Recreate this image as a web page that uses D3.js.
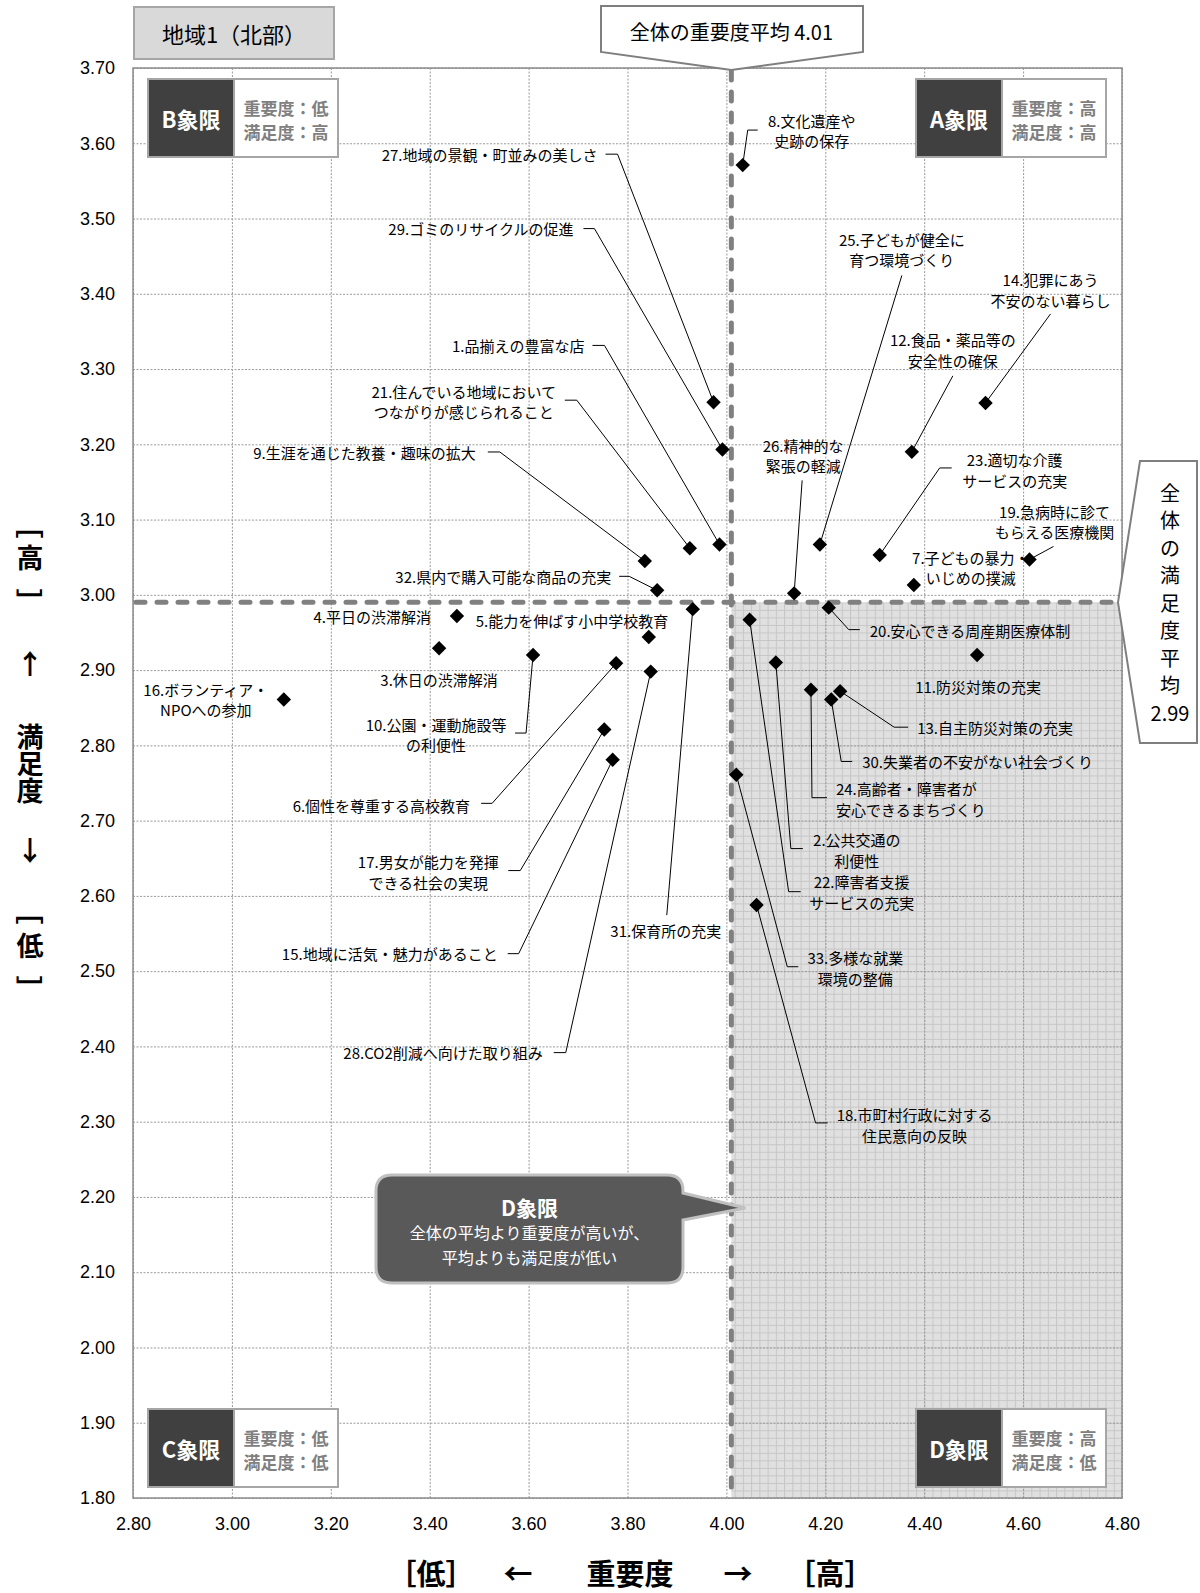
<!DOCTYPE html>
<html>
<head>
<meta charset="utf-8">
<script src="https://cdn.jsdelivr.net/npm/d3@7"></script>
<style>
    body { margin: 0; background: #fff; }
    svg text { font-family: "Noto Sans CJK JP", "Noto Sans", sans-serif; }
    .tick text { font-family: "Liberation Sans", Arial, sans-serif; font-size: 18px; fill: #000; }
</style>
</head>
<body>
<svg id="chart" width="1200" height="1593"></svg>
<script>
"use strict"

// survey items (番号 = index + 1)
const itemNames = [
    "品揃えの豊富な店", "公共交通の利便性", "休日の渋滞解消", "平日の渋滞解消",
    "能力を伸ばす小中学校教育", "個性を尊重する高校教育", "子どもの暴力・いじめの撲滅",
    "文化遺産や史跡の保存", "生涯を通じた教養・趣味の拡大", "公園・運動施設等の利便性",
    "防災対策の充実", "食品・薬品等の安全性の確保", "自主防災対策の充実",
    "犯罪にあう不安のない暮らし", "地域に活気・魅力があること", "ボランティア・NPOへの参加",
    "男女が能力を発揮できる社会の実現", "市町村行政に対する住民意向の反映",
    "急病時に診てもらえる医療機関", "安心できる周産期医療体制",
    "住んでいる地域においてつながりが感じられること", "障害者支援サービスの充実",
    "適切な介護サービスの充実", "高齢者・障害者が安心できるまちづくり",
    "子どもが健全に育つ環境づくり", "精神的な緊張の軽減", "地域の景観・町並みの美しさ",
    "CO2削減へ向けた取り組み", "ゴミのリサイクルの促進", "失業者の不安がない社会づくり",
    "保育所の充実", "県内で購入可能な商品の充実", "多様な就業環境の整備"
];

// 重要度 (x)
const importance = [
    3.986, 4.100, 3.419, 3.455, 3.843, 3.777, 4.379, 4.033, 3.835, 3.609,
    4.507, 4.375, 4.230, 4.524, 3.770, 3.105, 3.753, 4.061, 4.613, 4.207,
    3.926, 4.047, 4.310, 4.171, 4.189, 4.137, 3.974, 3.847, 3.992, 4.212,
    3.932, 3.860, 4.020
];

// 満足度 (y)
const satisfaction = [
    3.067, 2.910, 2.929, 2.972, 2.944, 2.909, 3.013, 3.571, 3.045, 2.920,
    2.920, 3.190, 2.872, 3.255, 2.781, 2.861, 2.821, 2.588, 3.047, 2.983,
    3.062, 2.967, 3.053, 2.874, 3.067, 3.002, 3.256, 2.898, 3.193, 2.861,
    2.981, 3.006, 2.761
];

const avgImportance = 4.01;
const avgSatisfaction = 2.99;

const xTicks = [2.8, 3.0, 3.2, 3.4, 3.6, 3.8, 4.0, 4.2, 4.4, 4.6, 4.8];
const yTicks = [1.8, 1.9, 2.0, 2.1, 2.2, 2.3, 2.4, 2.5, 2.6, 2.7, 2.8, 2.9, 3.0, 3.1, 3.2, 3.3, 3.4, 3.5, 3.6, 3.7];

const regionTitle = "地域1（北部）";

// label layout: [番号, anchor, dx, dy (first line, from point), chars on line 1, leader offsets]
const labelLayout = [
    [8, "middle", 69, -45, 5, [[5, -35], [15, -35]]],
    [27, "end", -116, -248, 0, [[-96, -248], [-108, -248]]],
    [29, "end", -149, -221, 0, [[-128, -221], [-139, -221]]],
    [1, "end", -135, -199, 0, [[-115, -199], [-127, -199]]],
    [21, "middle", -226, -157, 11, [[-113, -148], [-125, -148]]],
    [9, "end", -169, -108, 0, [[-145, -109], [-157, -109]]],
    [32, "end", -46, -14, 0, [[-28, -14], [-38, -14]]],
    [26, "middle", 9, -148, 4, [[8, -113]]],
    [25, "middle", 82, -305, 7, [[82, -269]]],
    [14, "middle", 65, -123, 5, [[65, -89]]],
    [12, "middle", 41, -112, 7, [[41, -76]]],
    [23, "middle", 135, -95, 5, [[60, -87], [72, -87]]],
    [19, "middle", 25, -48, 6, [[24, -13]]],
    [7, "middle", 57, -28, 7, []],
    [20, "start", 41, 23, 0, [[20, 22], [31, 22]]],
    [11, "middle", 1, 31, 0, []],
    [13, "start", 77, 36, 0, [[54, 36], [68, 36]]],
    [30, "start", 31, 62, 0, [[10, 62], [21, 62]]],
    [24, "start", 25, 99, 8, [[1, 108], [16, 108]]],
    [2, "middle", 81, 177, 5, [[15, 186], [27, 186]]],
    [22, "middle", 112, 262, 5, [[39, 272], [51, 272]]],
    [33, "middle", 119, 183, 5, [[51, 192], [62, 192]]],
    [18, "middle", 158, 210, 9, [[59, 218], [71, 218]]],
    [31, "middle", -27, 321, 0, [[-26, 306]]],
    [28, "end", -108, 381, 0, [[-85, 381], [-97, 381]]],
    [15, "end", -115, 194, 0, [[-94, 194], [-105, 194]]],
    [17, "middle", -176, 132, 8, [[-84, 141], [-96, 141]]],
    [6, "end", -146, 142, 0, [[-124, 140], [-135, 140]]],
    [10, "middle", -97, 69, 8, [[-7, 78], [-18, 78]]],
    [3, "middle", 0, 31, 0, []],
    [4, "end", -26, 1, 0, []],
    [5, "start", -173, -16, 0, []],
    [16, "middle", -78, -10, 7, []]
];

const svg = d3.select("#chart");
const plot = { left: 133, right: 1122, top: 68, bottom: 1498 };
const plotW = plot.right - plot.left;
const plotH = plot.bottom - plot.top;

const x = d3.scaleLinear().domain([2.8, 4.8]).range([plot.left, plot.right]);
const y = d3.scaleLinear().domain([1.8, 3.7]).range([plot.bottom, plot.top]);

const points = itemNames.map((name, i) => ({
    no: i + 1,
    name: name,
    imp: importance[i],
    sat: satisfaction[i]
}));

/* fine grid pattern of the D quadrant */
const defs = svg.append("defs");
const pw = (x(3.0) - x(2.8)) / 12;
const ph = (y(1.8) - y(1.9)) / 10;
const pat = defs.append("pattern")
    .attr("id", "dgrid")
    .attr("patternUnits", "userSpaceOnUse")
    .attr("x", plot.left).attr("y", plot.top)
    .attr("width", pw).attr("height", ph);
pat.append("rect").attr("width", pw).attr("height", ph).attr("fill", "#e0e0e0");
pat.append("path")
    .attr("d", `M0,0.5H${pw}M0.5,0V${ph}`)
    .attr("stroke", "#c6c6c6")
    .attr("stroke-width", 1);

svg.append("rect")
    .attr("x", plot.left).attr("y", plot.top)
    .attr("width", plotW).attr("height", plotH)
    .attr("fill", "#fff");

svg.append("rect")
    .attr("x", x(avgImportance)).attr("y", y(avgSatisfaction))
    .attr("width", plot.right - x(avgImportance))
    .attr("height", plot.bottom - y(avgSatisfaction))
    .attr("fill", "url(#dgrid)");

/* axes + grid */
const yAxis = svg.append("g")
    .attr("transform", `translate(${plot.left},0)`)
    .call(d3.axisLeft(y).tickValues(yTicks).tickSize(-plotW).tickPadding(18).tickFormat(d3.format(".2f")));
const xAxis = svg.append("g")
    .attr("transform", `translate(0,${plot.bottom})`)
    .call(d3.axisBottom(x).tickValues(xTicks).tickSize(-plotH).tickPadding(19).tickFormat(d3.format(".2f")));

[xAxis, yAxis].forEach(ax => {
    ax.select(".domain").remove();
    ax.selectAll(".tick line")
        .attr("stroke", "#9a9a9a")
        .attr("stroke-dasharray", "2,1.5");
});

svg.append("rect")
    .attr("x", plot.left).attr("y", plot.top)
    .attr("width", plotW).attr("height", plotH)
    .attr("fill", "none")
    .attr("stroke", "#8c8c8c")
    .attr("stroke-width", 1.5);

/* average lines */
svg.append("line")
    .attr("x1", x(avgImportance)).attr("x2", x(avgImportance))
    .attr("y1", plot.top + 3).attr("y2", plot.bottom)
    .attr("stroke", "#808080").attr("stroke-width", 5)
    .attr("stroke-dasharray", "9,12").attr("stroke-linecap", "round");
svg.append("line")
    .attr("x1", plot.left + 3).attr("x2", plot.right)
    .attr("y1", y(avgSatisfaction)).attr("y2", y(avgSatisfaction))
    .attr("stroke", "#808080").attr("stroke-width", 5)
    .attr("stroke-dasharray", "9,12").attr("stroke-linecap", "round");

/* leader lines and labels */
const byNo = {};
points.forEach(p => { byNo[p.no] = p; });

const labelG = svg.append("g");
labelLayout.forEach(([no, anchor, dx, dy, br, leader]) => {
    const p = byNo[no];
    const px = x(p.imp), py = y(p.sat);
    if (leader.length > 0) {
        const path = d3.path();
        path.moveTo(px, py);
        leader.forEach(([lx, ly]) => path.lineTo(px + lx, py + ly));
        labelG.append("path")
            .attr("d", path.toString())
            .attr("fill", "none")
            .attr("stroke", "#000")
            .attr("stroke-width", 1);
    }
    const full = p.no + "." + p.name;
    const lines = br > 0 ? [p.no + "." + p.name.slice(0, br), p.name.slice(br)] : [full];
    const t = labelG.append("text")
        .attr("text-anchor", anchor)
        .style("font-size", "15px")
        .attr("fill", "#000");
    lines.forEach((ln, i) => {
        t.append("tspan")
            .attr("x", px + dx)
            .attr("y", py + dy + i * 20.5)
            .attr("dominant-baseline", "central")
            .text(ln);
    });
});

/* diamonds */
svg.append("g").selectAll("path")
    .data(points)
    .enter().append("path")
    .attr("d", d3.symbol(d3.symbolSquare, 104))
    .attr("transform", d => `translate(${x(d.imp)},${y(d.sat)}) rotate(45)`)
    .attr("fill", "#000");

/* quadrant boxes */
function quadrantBox(x0, y0, letter, imp, sat) {
    let g = svg.append("g");
    g.append("rect")
        .attr("x", x0).attr("y", y0).attr("width", 190).attr("height", 78)
        .attr("fill", "#fff").attr("stroke", "#a6a6a6").attr("stroke-width", 2);
    g.append("rect")
        .attr("x", x0 + 1).attr("y", y0 + 1).attr("width", 85).attr("height", 76)
        .attr("fill", "#404040");
    g.append("line")
        .attr("x1", x0 + 86).attr("x2", x0 + 86).attr("y1", y0).attr("y2", y0 + 78)
        .attr("stroke", "#a6a6a6").attr("stroke-width", 2);
    g.append("text")
        .attr("x", x0 + 43).attr("y", y0 + 39)
        .attr("text-anchor", "middle").attr("dominant-baseline", "central")
        .style("font-size", "22px").style("font-weight", "bold")
        .attr("fill", "#fff")
        .text(letter + "象限");
    g.append("text")
        .attr("x", x0 + 138).attr("y", y0 + 28)
        .attr("text-anchor", "middle").attr("dominant-baseline", "central")
        .style("font-size", "17px").style("font-weight", "bold")
        .attr("fill", "#808080")
        .text("重要度：" + imp);
    g.append("text")
        .attr("x", x0 + 138).attr("y", y0 + 52)
        .attr("text-anchor", "middle").attr("dominant-baseline", "central")
        .style("font-size", "17px").style("font-weight", "bold")
        .attr("fill", "#808080")
        .text("満足度：" + sat);
}
quadrantBox(plot.left + 15, plot.top + 11, "B", "低", "高");
quadrantBox(plot.right - 206, plot.top + 11, "A", "高", "高");
quadrantBox(plot.left + 15, plot.bottom - 89, "C", "低", "低");
quadrantBox(plot.right - 206, plot.bottom - 89, "D", "高", "低");

/* region title */
svg.append("rect")
    .attr("x", 134).attr("y", 7).attr("width", 200).attr("height", 52)
    .attr("fill", "#d9d9d9").attr("stroke", "#a6a6a6").attr("stroke-width", 2);
svg.append("text")
    .attr("x", 234).attr("y", 33)
    .attr("text-anchor", "middle").attr("dominant-baseline", "central")
    .style("font-size", "22px")
    .text(regionTitle);

/* callout: 重要度平均 */
const tipX = x(avgImportance);
svg.append("path")
    .attr("d", `M601,6H863V52L${tipX},${plot.top + 2}L601,52Z`)
    .attr("fill", "#fff").attr("stroke", "#7f7f7f").attr("stroke-width", 2);
svg.append("text")
    .attr("x", tipX).attr("y", 31)
    .attr("text-anchor", "middle").attr("dominant-baseline", "central")
    .style("font-size", "20px")
    .text("全体の重要度平均 " + avgImportance.toFixed(2));

/* callout: 満足度平均 (vertical) */
const tipY = y(avgSatisfaction);
svg.append("path")
    .attr("d", `M1140,461H1197V743H1140L1118,${tipY}Z`)
    .attr("fill", "#fff").attr("stroke", "#7f7f7f").attr("stroke-width", 2);
const vChars = "全体の満足度平均".split("").concat([avgSatisfaction.toFixed(2)]);
svg.append("g").selectAll("text")
    .data(vChars)
    .enter().append("text")
    .attr("x", 1170)
    .attr("y", (d, i) => 492 + i * 27.5)
    .attr("text-anchor", "middle").attr("dominant-baseline", "central")
    .style("font-size", "20px")
    .text(d => d);

/* callout: D象限 */
const dc = { x0: 376, y0: 1175, x1: 683, y1: 1283, r: 16 };
const dTip = x(avgImportance) + 14;
svg.append("path")
    .attr("d", `M${dc.x0 + dc.r},${dc.y0}H${dc.x1 - dc.r}Q${dc.x1},${dc.y0} ${dc.x1},${dc.y0 + dc.r}` +
        `V1193L${dTip},1208L${dc.x1},1220V${dc.y1 - dc.r}Q${dc.x1},${dc.y1} ${dc.x1 - dc.r},${dc.y1}` +
        `H${dc.x0 + dc.r}Q${dc.x0},${dc.y1} ${dc.x0},${dc.y1 - dc.r}V${dc.y0 + dc.r}Q${dc.x0},${dc.y0} ${dc.x0 + dc.r},${dc.y0}Z`)
    .attr("fill", "#595959").attr("stroke", "#c0c0c0").attr("stroke-width", 3);
const dcx = (dc.x0 + dc.x1) / 2;
svg.append("text")
    .attr("x", dcx).attr("y", 1207)
    .attr("text-anchor", "middle").attr("dominant-baseline", "central")
    .style("font-size", "21px").style("font-weight", "bold")
    .attr("fill", "#fff").text("D象限");
svg.append("text")
    .attr("x", dcx).attr("y", 1232)
    .attr("text-anchor", "middle").attr("dominant-baseline", "central")
    .style("font-size", "16px")
    .attr("fill", "#fff").text("全体の平均より重要度が高いが、");
svg.append("text")
    .attr("x", dcx).attr("y", 1257)
    .attr("text-anchor", "middle").attr("dominant-baseline", "central")
    .style("font-size", "16px")
    .attr("fill", "#fff").text("平均よりも満足度が低い");

/* axis titles */
const xTitle = [["［低］", 431], ["←", 518], ["重要度", 630], ["→", 738], ["［高］", 830]];
svg.append("g").selectAll("text")
    .data(xTitle)
    .enter().append("text")
    .attr("x", d => d[1]).attr("y", 1572)
    .attr("text-anchor", "middle").attr("dominant-baseline", "central")
    .style("font-size", "29px").style("font-weight", "bold")
    .text(d => d[0]);

const yTitle = [["［", 525, 90], ["高", 556, 0], ["］", 602, 90], ["↑", 662, 0],
    ["満", 735, 0], ["足", 762, 0], ["度", 789, 0], ["↓", 849, 0],
    ["［", 911, 90], ["低", 944, 0], ["］", 989, 90]];
svg.append("g").selectAll("text")
    .data(yTitle)
    .enter().append("text")
    .attr("transform", d => `translate(30,${d[1]}) rotate(${d[2]})`)
    .attr("text-anchor", "middle").attr("dominant-baseline", "central")
    .style("font-size", "27px").style("font-weight", "bold")
    .text(d => d[0]);
</script>
</body>
</html>
